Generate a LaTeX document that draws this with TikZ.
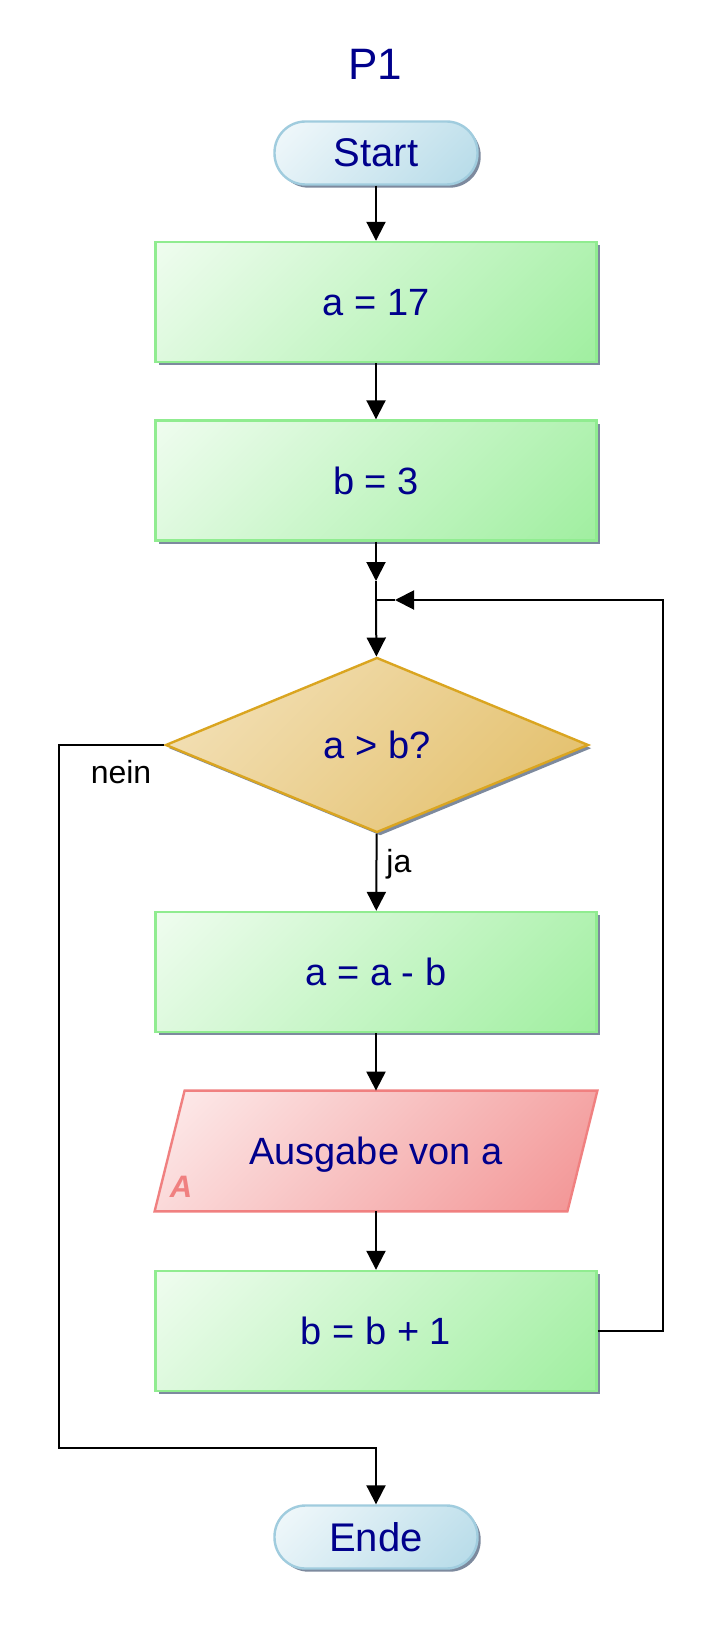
\documentclass[tikz,border=0pt]{standalone}
\usepackage{fontspec}
\setmainfont{Liberation Sans}
\usetikzlibrary{arrows.meta,shapes.geometric,shadows}
\definecolor{txt}{RGB}{0,0,140}
\definecolor{shd}{RGB}{125,138,158}
\definecolor{grn}{RGB}{144,236,144}
\definecolor{blu}{RGB}{168,212,228}
\definecolor{blub}{RGB}{160,204,222}
\definecolor{gold}{RGB}{218,165,32}
\definecolor{goldd}{RGB}{222,180,80}
\definecolor{goldl}{RGB}{248,236,210}
\definecolor{coral}{RGB}{240,128,128}
\pgfdeclareverticalshading{greensh}{100bp}{color(0bp)=(grn); color(100bp)=(white)}
\pgfdeclareverticalshading{bluesh}{100bp}{color(0bp)=(blu); color(100bp)=(white)}
\pgfdeclareverticalshading{goldsh}{100bp}{color(0bp)=(goldd); color(100bp)=(goldl)}
\pgfdeclareverticalshading{coralsh}{100bp}{color(0bp)=(coral); color(100bp)=(white)}
\pgfdeclarelayer{bg}
\pgfdeclarelayer{paper}
\pgfsetlayers{paper,bg,main}
\tikzset{
  myshadow/.style={drop shadow={shadow xshift=1.6pt, shadow yshift=-1.6pt, fill=shd, opacity=1}},
  bodyfont/.style={font=\fontsize{19}{22}\selectfont, text=txt, text depth=0pt},
  proc/.style={rectangle, draw=grn, line width=1.2pt, minimum width=220.5pt, minimum height=60pt, inner sep=0pt,
    shade, shading=greensh, shading angle=45, bodyfont, myshadow},
  term/.style={rectangle, rounded corners=15.5pt, draw=blub, line width=1.2pt, minimum width=101.5pt, minimum height=31.5pt, inner sep=0pt,
    shade, shading=bluesh, shading angle=45, font=\fontsize{20}{24}\selectfont, text=txt, myshadow},
  decis/.style={shape=diamond, draw=gold, line width=1.2pt, minimum width=211.5pt, minimum height=87.5pt, inner sep=0pt,
    shade, shading=goldsh, shading angle=45, bodyfont, myshadow},
  conn/.style={line width=1pt, -{Triangle[length=9.5pt,width=9.5pt]}},
  plain/.style={line width=1pt},
  lbl/.style={font=\fontsize{16}{19}\selectfont, text=black, inner sep=0pt},
}
\begin{document}
\begin{tikzpicture}[x=0.5pt,y=-0.5pt]
\begin{pgfonlayer}{paper}
\fill[white] (0,0) rectangle (721,1626);
\end{pgfonlayer}
\useasboundingbox (0,0) rectangle (721,1626);

\node[font=\fontsize{22}{26}\selectfont, text=txt] (title) at (375,64) {P1};
\node[term] (start) at (376,153) {Start};
\node[proc] (b1) at (376,302) {a = 17};
\node[proc] (b2) at (376,480.5) {b = 3};
\node[decis] (dec) at (377,745) {a > b?};
\node[proc] (b3) at (376,972) {a = a - b};
\node[rectangle, minimum width=206pt, minimum height=60pt, inner sep=0pt, bodyfont] (out) at (376,1151) {Ausgabe von a};
\node[proc] (b4) at (376,1331) {b = b + 1};
\node[term] (ende) at (376,1537) {Ende};

\begin{pgfonlayer}{bg}
  \begin{scope}[shift={(1.6pt,-1.6pt)}]
    \fill[shd] ([xshift=7.5pt]out.north west) -- ([xshift=7.5pt]out.north east) -- ([xshift=-7.5pt]out.south east) -- ([xshift=-7.5pt]out.south west) -- cycle;
  \end{scope}
  \shade[shading=coralsh, shading angle=45, draw=coral, line width=1.2pt]
    ([xshift=7.5pt]out.north west) -- ([xshift=7.5pt]out.north east) -- ([xshift=-7.5pt]out.south east) -- ([xshift=-7.5pt]out.south west) -- cycle;
\end{pgfonlayer}
\node[font=\fontsize{15.5}{18}\selectfont\bfseries\itshape, text=coral, anchor=base, inner sep=0pt] (alab) at (181,1197) {A};

\coordinate (ja) at (376,581);
\coordinate (j) at (376,600);
\coordinate (jr) at (395,600);
\coordinate (rt) at (663,600);
\coordinate (lb) at (59,1448);

\draw[conn] (start) -- (b1);
\draw[conn] (b1) -- (b2);
\draw[conn] (b2) -- (ja);
\draw[plain] (ja) -- (j);
\draw[conn] (j) -- (dec);
\draw[conn] (dec) -- (b3);
\draw[conn] (b3) -- (out);
\draw[conn] (out) -- (b4);
\draw[conn] (b4.east) -| (rt) -- (jr);
\draw[plain] (jr) -- (j);
\draw[conn] (dec.west) -| (lb) -| (ende.north);

\node[lbl, anchor=base] (nein) at (121,783) {nein};
\node[lbl, anchor=base west] (jalbl) at (386,872) {ja};
\end{tikzpicture}
\end{document}
